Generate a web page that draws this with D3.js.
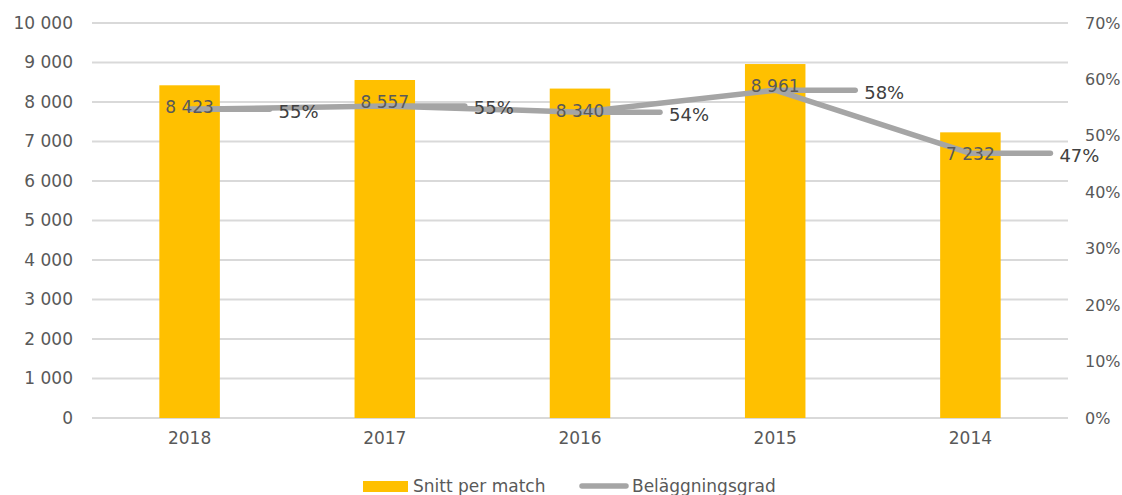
<!DOCTYPE html>
<html><head><meta charset="utf-8">
<script src="https://cdn.jsdelivr.net/npm/d3@7"></script>
<style>body{margin:0;background:#fff;}svg{display:block;font-family:"DejaVu Sans",Verdana,sans-serif;}</style>
</head><body><svg id="c" width="1122" height="495"></svg>
<script>
const years = ["2018","2017","2016","2015","2014"];
const snitt = [8423, 8557, 8340, 8961, 7232];
const belaggning = [0.547, 0.553, 0.542, 0.581, 0.469];
const leftTicks = [0,1000,2000,3000,4000,5000,6000,7000,8000,9000,10000];
const rightTicks = [0,0.1,0.2,0.3,0.4,0.5,0.6,0.7];
const seriesNames = ["Snitt per match","Beläggningsgrad"];

const svg = d3.select("#c");
const L = 92, R = 1068, T = 23, B = 418;
const x = d3.scaleBand().domain(years).range([L, R]).paddingInner(0.69).paddingOuter(0.345);
const y = d3.scaleLinear().domain([0,10000]).range([B, T]);
const y2 = d3.scaleLinear().domain([0,0.7]).range([B, T]);
const fmt = v => d3.format(",")(v).replace(/,/g, " ");
const txt = "#595959";

// gridlines
svg.append("g").selectAll("line").data(leftTicks).join("line")
  .attr("x1", L).attr("x2", R).attr("y1", d => y(d)).attr("y2", d => y(d))
  .attr("stroke", "#d9d9d9").attr("stroke-width", 2);

// left axis
const ax = svg.append("g").attr("transform", `translate(${L-19},0)`)
  .call(d3.axisLeft(y).tickValues(leftTicks).tickSize(0).tickPadding(0).tickFormat(fmt));
ax.select(".domain").remove();
ax.selectAll("text").attr("fill", txt).attr("font-size", 17).attr("font-family", "DejaVu Sans");

// right axis
const ax2 = svg.append("g").attr("transform", `translate(${R+17},0)`)
  .call(d3.axisRight(y2).tickValues(rightTicks).tickSize(0).tickPadding(0).tickFormat(d3.format(".0%")));
ax2.select(".domain").remove();
ax2.selectAll("text").attr("fill", txt).attr("font-size", 16).attr("font-family", "DejaVu Sans");

// x axis
const ax3 = svg.append("g").attr("transform", `translate(0,${B})`)
  .call(d3.axisBottom(x).tickSize(0).tickPadding(14));
ax3.select(".domain").remove();
ax3.selectAll("text").attr("fill", txt).attr("font-size", 17).attr("font-family", "DejaVu Sans");

// bars
svg.append("g").selectAll("rect").data(years).join("rect")
  .attr("x", d => x(d)).attr("width", x.bandwidth())
  .attr("y", (d,i) => y(snitt[i])).attr("height", (d,i) => B - y(snitt[i]))
  .attr("fill", "#ffc000");

const cx = d => x(d) + x.bandwidth()/2;

// line
const line = d3.line().x((d,i) => cx(years[i])).y(d => y2(d));
svg.append("path").datum(belaggning).attr("d", line)
  .attr("fill", "none").attr("stroke", "#a5a5a5").attr("stroke-width", 5.5)
  .attr("stroke-linejoin", "round").attr("stroke-linecap", "round");

// leader lines
svg.append("g").selectAll("line").data(years).join("line")
  .attr("x1", d => cx(d)).attr("x2", d => cx(d) + 80)
  .attr("y1", (d,i) => y2(belaggning[i])).attr("y2", (d,i) => y2(belaggning[i]))
  .attr("stroke", "#a5a5a5").attr("stroke-width", 5.5).attr("stroke-linecap", "round");

// bar labels
svg.append("g").selectAll("text").data(years).join("text")
  .attr("x", d => cx(d)).attr("y", (d,i) => y(snitt[i]) + 22)
  .attr("text-anchor", "middle").attr("dominant-baseline", "central")
  .attr("fill", txt).attr("font-size", 17).text((d,i) => fmt(snitt[i]));

// percent labels
svg.append("g").selectAll("text").data(years).join("text")
  .attr("x", d => cx(d) + 89).attr("y", (d,i) => y2(belaggning[i]) + 2)
  .attr("dominant-baseline", "central")
  .attr("fill", "#404040").attr("font-size", 18).text((d,i) => d3.format(".0%")(belaggning[i]));

// legend
const lg = svg.append("g");
lg.append("rect").attr("x", 363).attr("y", 481).attr("width", 45).attr("height", 11).attr("fill", "#ffc000");
lg.append("text").attr("x", 413).attr("y", 492).attr("fill", txt).attr("font-size", 17).text(seriesNames[0]);
lg.append("line").attr("x1", 582).attr("x2", 626).attr("y1", 486).attr("y2", 486)
  .attr("stroke", "#a5a5a5").attr("stroke-width", 5.5).attr("stroke-linecap", "round");
lg.append("text").attr("x", 632).attr("y", 492).attr("fill", txt).attr("font-size", 17).text(seriesNames[1]);
</script></body></html>
